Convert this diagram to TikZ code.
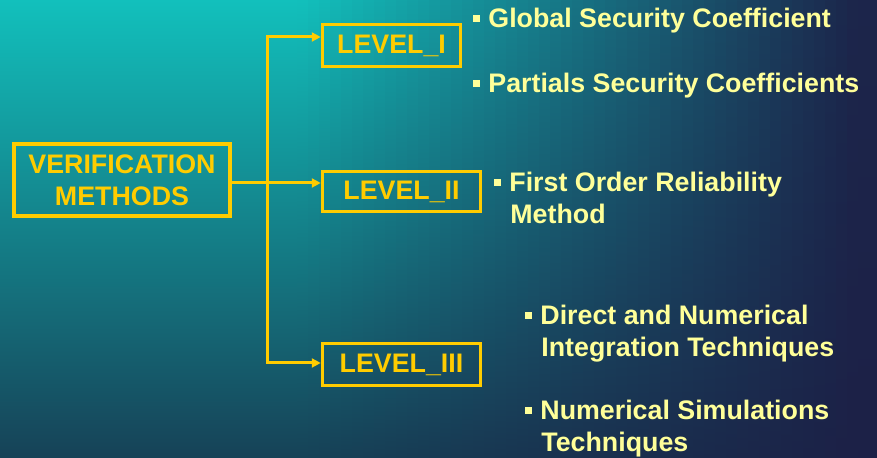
\documentclass[tikz,border=0pt]{standalone}
\usepackage{fontspec}
\setmainfont{Liberation Sans}
\usepackage{tikz}
\usetikzlibrary{arrows.meta,calc,positioning}
\definecolor{gold}{HTML}{FFCC00}
\definecolor{paleyellow}{HTML}{FFFF99}
\definecolor{bgtop}{HTML}{12C0BC}
\definecolor{bgmiddle}{HTML}{139A9A}
\definecolor{bgbottom}{HTML}{164257}
\definecolor{navy}{HTML}{1C1F46}
\newcommand{\diafont}{\fontsize{13.4pt}{16pt}\selectfont\bfseries}
\newcommand{\sqbullet}{\raisebox{3pt}{\rule{3.5pt}{3.5pt}}\hspace{4pt}}
\newcommand{\sqindent}{\hspace*{8pt}}

\begin{document}
\begin{tikzpicture}[x=0.5pt, y=0.5pt,
    levelbox/.style={draw=gold, line width=1.75pt, text=gold, font=\diafont, minimum height=21pt, inner sep=0pt},
    item/.style={text=paleyellow, font=\diafont, anchor=base west, inner sep=0pt, align=left},
    link/.style={gold, line width=1.5pt, -{Triangle[length=4.5pt, width=4.5pt]}}]
          % Background: teal shading that turns navy to the right
          \useasboundingbox (0,0) rectangle (877,458);
          \foreach \i in {0,...,79} {
            \pgfmathsetmacro{\w}{max(0,min(96,(\i*11+5.5-300)/577*100))}
            \colorlet{striptop}{navy!\w!bgtop}
            \colorlet{stripmid}{navy!\w!bgmiddle}
            \colorlet{stripbot}{navy!\w!bgbottom}
            \fill[top color=striptop, middle color=stripmid, bottom color=stripbot] (\i*11,0) rectangle (\i*11+11.6,458);
          }

          % Draw the main box
          \node[levelbox, minimum width=108pt, minimum height=36pt, align=center] (verif) at (122,278) {VERIFICATION\\METHODS};

          % Draw the three level boxes
          \node[levelbox, minimum width=69pt] (lvlI) at (391.5,412.5) {LEVEL\_I};
          \node[levelbox, minimum width=79pt, minimum height=20pt] (lvlII) at (401.5,266.5) {LEVEL\_II};
          \node[levelbox, minimum width=79pt] (lvlIII) at (401.5,93.5) {LEVEL\_III};

          % Draw the branching arrows
          \coordinate (trunk) at (267,275);
          \draw[link] (verif.east |- trunk) -- (lvlII.west |- trunk);
          \draw[link] (trunk) |- ([yshift=4.25pt]lvlI.west);
          \draw[link] (trunk) |- ([yshift=0.75pt]lvlIII.west);

          % Draw the methods of each level (base is the last line)
          \node[item] (glob) at (473,430) {\sqbullet Global Security Coefficient};
          \node[item] (part) at (473,365) {\sqbullet Partials Security Coefficients};
          \node[item] (form) at (494,234) {\sqbullet First Order Reliability\\\sqindent Method};
          \node[item] (dint) at (525,101) {\sqbullet Direct and Numerical\\\sqindent Integration Techniques};
          \node[item] (nsim) at (525,6) {\sqbullet Numerical Simulations\\\sqindent Techniques};
        \end{tikzpicture}
\end{document}
